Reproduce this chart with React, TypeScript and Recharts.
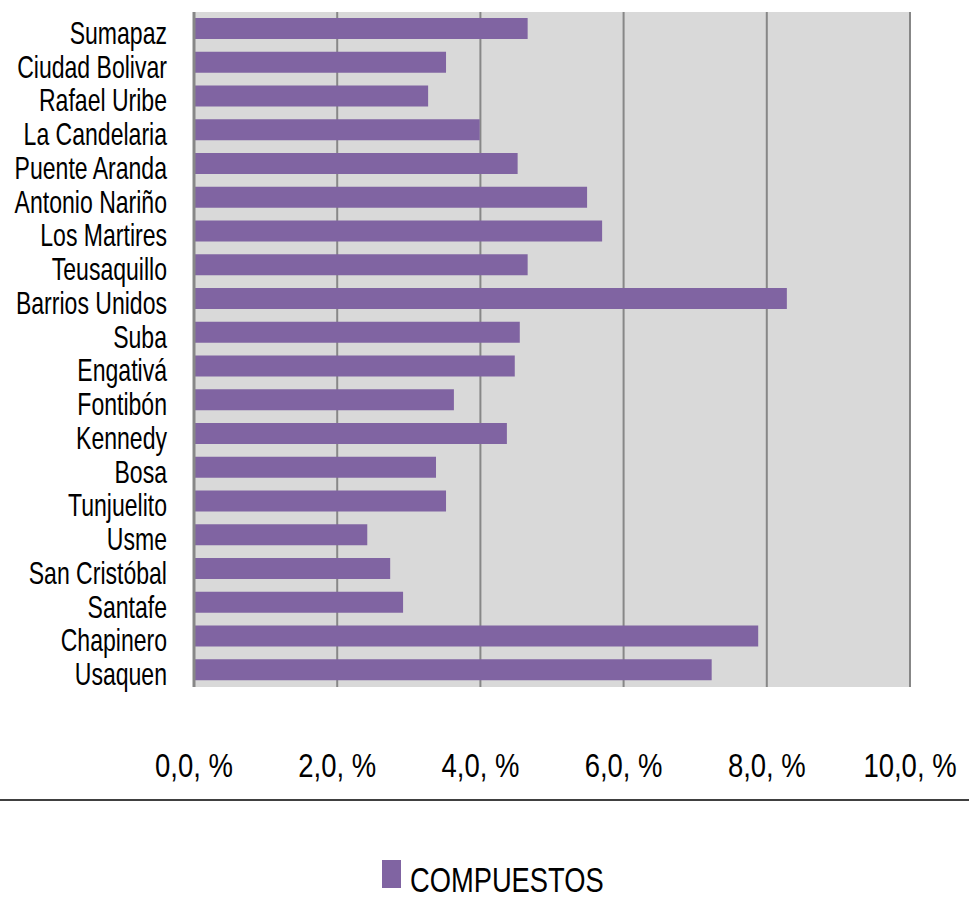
import React from "react";
import { BarChart, Bar, XAxis, YAxis, CartesianGrid, Legend } from "recharts";

const categories = [
  "Sumapaz",
  "Ciudad Bolivar",
  "Rafael Uribe",
  "La Candelaria",
  "Puente Aranda",
  "Antonio Nariño",
  "Los Martires",
  "Teusaquillo",
  "Barrios Unidos",
  "Suba ",
  "Engativá",
  "Fontibón",
  "Kennedy ",
  "Bosa",
  "Tunjuelito",
  "Usme",
  "San Cristóbal",
  "Santafe",
  "Chapinero",
  "Usaquen",
];

const compuestos = [
  4.66, 3.52, 3.27, 3.99, 4.52, 5.49, 5.7, 4.66, 8.28, 4.55, 4.48, 3.63, 4.37,
  3.38, 3.52, 2.42, 2.74, 2.92, 7.88, 7.23,
];

const xTicks = [0, 2, 4, 6, 8, 10];
const xTickLabels = ["0,0, %", "2,0, %", "4,0, %", "6,0, %", "8,0, %", "10,0, %"];

const seriesName = "COMPUESTOS";

const data = categories.map((name, i) => ({ name, value: compuestos[i] }));

const FONT = "'Liberation Sans', Arial, sans-serif";
const BAR_COLOR = "#8064A2";

const YTick = (props: any) => {
  const { x, y, payload } = props;
  return (
    <text
      transform={`translate(${x - 27},${y + 15}) scale(0.72,1)`}
      textAnchor="end"
      fill="#000"
      fontFamily={FONT}
      fontSize={32}
    >
      {String(payload.value).trim()}
    </text>
  );
};

const XTick = (props: any) => {
  const { x, y, payload } = props;
  const idx = xTicks.indexOf(payload.value);
  return (
    <text
      transform={`translate(${x},${y + 90}) scale(0.82,1)`}
      textAnchor="middle"
      fill="#000"
      fontFamily={FONT}
      fontSize={33.5}
    >
      {idx >= 0 ? xTickLabels[idx] : payload.value}
    </text>
  );
};

const LegendContent = () => (
  <div
    style={{
      display: "flex",
      justifyContent: "center",
      alignItems: "flex-start",
      paddingLeft: 16,
      height: 37,
    }}
  >
    <div style={{ width: 19, height: 28, background: BAR_COLOR, marginRight: 9 }} />
    <div style={{ width: 194, height: 35, marginTop: 2, position: "relative" }}>
      <span
        style={{
          position: "absolute",
          left: 0,
          top: 0,
          fontFamily: FONT,
          fontSize: 35,
          lineHeight: "35px",
          color: "#000",
          whiteSpace: "nowrap",
          transform: "scaleX(0.78)",
          transformOrigin: "left top",
        }}
      >
        {seriesName}
      </span>
    </div>
  </div>
);

export default function App() {
  return (
    <div style={{ position: "absolute", left: 0, top: 0, width: 969, height: 900, background: "#fff" }}>
      <BarChart
        width={969}
        height={900}
        data={data}
        layout="vertical"
        margin={{ top: 12, right: 59, left: 0, bottom: 56 }}
        barSize={21}
      >
        <CartesianGrid
          horizontal={false}
          vertical={true}
          stroke="#878787"
          strokeWidth={2}
          fill="#D9D9D9"
          fillOpacity={1}
        />
        <XAxis
          type="number"
          domain={[0, 10]}
          ticks={xTicks}
          interval={0}
          axisLine={false}
          tickLine={false}
          tickSize={0}
          tickMargin={0}
          height={120}
          tick={<XTick />}
        />
        <YAxis
          type="category"
          dataKey="name"
          width={194}
          interval={0}
          axisLine={{ stroke: "#878787", strokeWidth: 3 }}
          tickLine={false}
          tickSize={0}
          tickMargin={0}
          tick={<YTick />}
        />
        <Bar dataKey="value" name={seriesName} fill={BAR_COLOR} isAnimationActive={false} />
        <Legend
          content={<LegendContent />}
          wrapperStyle={{ position: "absolute", top: 860, left: 0, width: 969 }}
        />
      </BarChart>
      <div
        style={{
          position: "absolute",
          left: 0,
          top: 799,
          width: 969,
          height: 0,
          borderTop: "2px solid #404040",
        }}
      />
    </div>
  );
}
